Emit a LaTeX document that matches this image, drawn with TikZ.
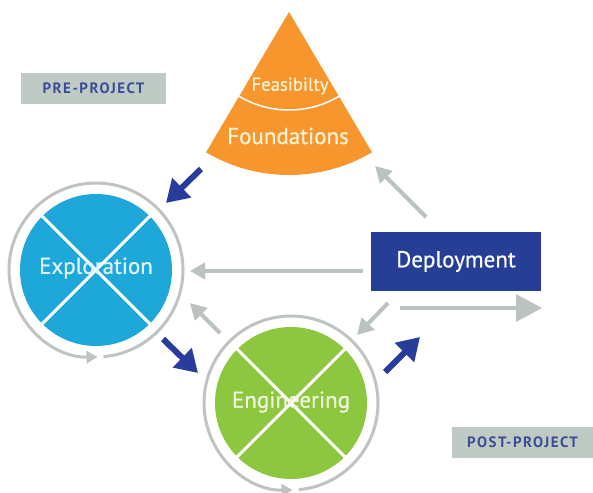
\documentclass[tikz,border=0pt]{standalone}
\usepackage{fontspec}
\setmainfont{PT Sans}
\usetikzlibrary{arrows.meta,calc}
\definecolor{conecol}{RGB}{247,150,45}
\definecolor{conetext}{RGB}{255,244,218}
\definecolor{expcol}{RGB}{30,167,217}
\definecolor{exptext}{RGB}{222,243,249}
\definecolor{engcol}{RGB}{141,198,63}
\definecolor{engtext}{RGB}{240,247,222}
\definecolor{navy}{RGB}{38,62,150}
\definecolor{arrownavy}{RGB}{40,60,155}
\definecolor{ringcol}{RGB}{189,196,193}
\definecolor{graycol}{RGB}{186,195,191}
\definecolor{labelcol}{RGB}{191,202,196}
\definecolor{labeltext}{RGB}{58,77,150}
\tikzset{
  bigtext/.style={font=\fontsize{23}{26}\selectfont\addfontfeatures{FakeBold=0.6}},
  disk/.style={circle, inner sep=0pt, minimum size=152pt},
  ring/.style={draw=ringcol, line width=3pt, -{Triangle[length=11pt,width=12pt]}},
  cross/.style={draw=white, line width=3pt},
  bluearrow/.style={draw=arrownavy, line width=6pt, -{Triangle[length=22pt,width=26pt]}},
  grayarrow/.style={draw=graycol, line width=4pt, -{Triangle[length=16pt,width=17pt]}},
  labelbox/.style={fill=labelcol, inner sep=0pt, minimum height=31pt, text=labeltext,
    font=\fontsize{15}{17}\selectfont\bfseries\addfontfeatures{LetterSpace=10}}
}
\begin{document}
\begin{tikzpicture}[x=1pt,y=-1pt]
\useasboundingbox (0,0) rectangle (593,492);
\fill[white] (0,0) rectangle (593,492);

% cone
\coordinate (apex) at (289,12);
\fill[conecol] (apex) -- ++(59.4:163) arc[start angle=59.4, end angle=120.6, radius=163] -- cycle;
\draw[white, line width=1.5pt] ($(apex)+(59.4:98)$) arc[start angle=59.4, end angle=120.6, radius=98];
\node[text=conetext, font=\fontsize{18.7}{21}\selectfont\addfontfeatures{FakeBold=0.6}] (feas) at (290,86) {Feasibilty};
\node[text=conetext, bigtext] (found) at (288,136) {Foundations};

% exploration
\node[disk, fill=expcol] (expl) at (96,270) {};
\draw[cross] (expl.45) -- (expl.225);
\draw[cross] (expl.135) -- (expl.315);
\node[text=exptext, bigtext] (expltext) at (96,268) {Exploration};
\draw[ring] ($(expl.center)+(85:87)$) arc[start angle=85, end angle=-271, radius=87];

% engineering
\node[disk, fill=engcol] (eng) at (291,403) {};
\draw[cross] (eng.45) -- (eng.225);
\draw[cross] (eng.135) -- (eng.315);
\node[text=engtext, bigtext] (engtext) at (291,402) {Engineering};
\draw[ring] ($(eng.center)+(85:87)$) arc[start angle=85, end angle=-271, radius=87];

% deployment
\node[fill=navy, inner sep=0pt, minimum width=170pt, minimum height=59pt, text=white, bigtext] (depl) at (456,261.5) {Deployment};

% labels
\node[labelbox, minimum width=145pt] (pre) at (93.5,88.5) {PRE-PROJECT};
\node[labelbox, minimum width=141pt] (post) at (522.5,442.5) {POST-PROJECT};

% arrow end points
\coordinate (a1s) at (201,169); \coordinate (a1e) at (166,203);
\coordinate (a2s) at (163,339); \coordinate (a2e) at (198,373);
\coordinate (a3s) at (385,372); \coordinate (a3e) at (420,337);
\coordinate (g4s) at (426,217); \coordinate (g4e) at (375,166);
\coordinate (g5s) at (363,271); \coordinate (g5e) at (190,271);
\coordinate (g6s) at (220,333); \coordinate (g6e) at (190,303);
\coordinate (g7s) at (388,303); \coordinate (g7e) at (357,335);
\coordinate (g8s) at (400,308); \coordinate (g8e) at (542,308);

\draw[bluearrow] (a1s) -- (a1e);
\draw[bluearrow] (a2s) -- (a2e);
\draw[bluearrow] (a3s) -- (a3e);
\draw[grayarrow] (g4s) -- (g4e);
\draw[grayarrow, -{Triangle[length=15pt,width=16pt]}] (g5s) -- (g5e);
\draw[grayarrow] (g6s) -- (g6e);
\draw[grayarrow] (g7s) -- (g7e);
\draw[grayarrow, line width=3.5pt, -{Triangle[length=26pt,width=27pt]}] (g8s) -- (g8e);
\end{tikzpicture}
\end{document}
